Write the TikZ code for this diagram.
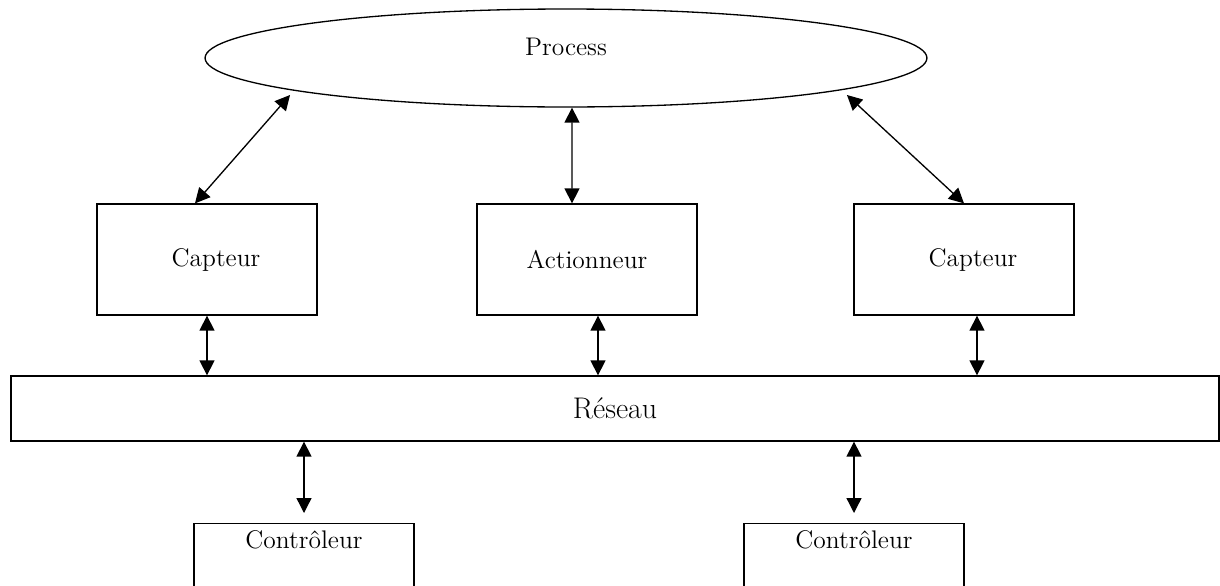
\documentclass[tikz,border=0pt]{standalone}
\usepackage{tikz}
\usetikzlibrary{arrows.meta,positioning,shapes.geometric}

\begin{document}
\begin{tikzpicture}[<->,>={Triangle[length=0.3cm,width=0.3cm]},x=0.02cm,y=-0.02cm,
line width=0.75pt]
\tikzstyle{box}=[draw,rectangle,minimum width=4.4cm,minimum height=2.22cm,font=\fontsize{14.5}{17}\selectfont]
\tikzstyle{ctrl}=[draw,rectangle,minimum width=4.4cm,inner sep=0pt,text height=0.5cm,text depth=0.9cm,font=\fontsize{14.5}{17}\selectfont]
\useasboundingbox (0,0) rectangle (1220,585);

\node[draw,ellipse,minimum width=14.44cm,minimum height=1.96cm,inner sep=0pt,
font=\fontsize{14.5}{17}\selectfont] (proc) at (566,58) {\raisebox{0.45cm}{Process}};

\node[box]		(capA) at (207,259.5) {\hspace{0.36cm}Capteur};
\node[box]		(act)  at (587,259.5) {Actionneur};
\node[box]		(capB) at (964,259.5) {\hspace{0.36cm}Capteur};

\node[draw,rectangle,minimum width=24.16cm,minimum height=1.3cm,
font=\fontsize{17}{20}\selectfont] (res) at (615,408.5) {Réseau};

\node[ctrl,anchor=north]	(ctrlA) at (304,523) {Contrôleur};
\node[ctrl,anchor=north]	(ctrlB) at (854,523) {Contrôleur};

\path ([xshift=-5.52cm,yshift=-0.74cm]proc.center) edge	([xshift=-0.24cm]capA.north)
([xshift=0.12cm]proc.south) edge ([xshift=-0.3cm]act.north)
([xshift=5.62cm,yshift=-0.74cm]proc.center) edge	(capB.north)
(capA.south) edge		(capA.south |- res.north)
([xshift=0.22cm]act.south) edge ([xshift=0.22cm]act.south |- res.north)
([xshift=0.26cm]capB.south) edge ([xshift=0.26cm]capB.south |- res.north)
(res.south -| ctrlA.north) edge[shorten >=0.2cm] (ctrlA.north)
(res.south -| ctrlB.north) edge[shorten >=0.2cm] (ctrlB.north);
\end{tikzpicture}
\end{document}
